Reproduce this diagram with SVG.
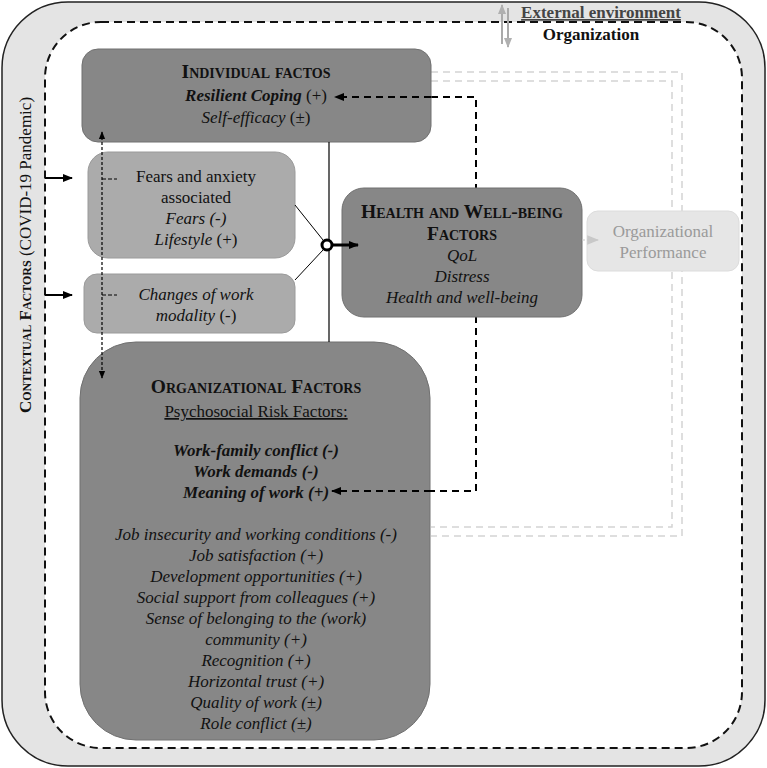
<svg xmlns="http://www.w3.org/2000/svg" width="767" height="768" viewBox="0 0 767 768">
<style>
text{font-family:"Liberation Serif","Times New Roman",Times,"DejaVu Serif",serif;font-size:17px;fill:#111;text-anchor:middle}
.sc{font-variant:small-caps;font-weight:bold;font-size:19.5px}
.sc2{font-variant:small-caps;font-weight:bold;font-size:17px}
.i{font-style:italic}
.b{font-weight:bold}
.dark{fill:#878787;stroke:#707070;stroke-width:1}
.light{fill:#ababab;stroke:#9a9a9a;stroke-width:1}
.gl{fill:none;stroke:#d4d4d4;stroke-width:1.5;stroke-dasharray:7 5}
.dc{fill:none;stroke:#000;stroke-width:2;stroke-dasharray:7 5}
</style>
<defs>
<marker id="ah" viewBox="0 0 10 10" refX="9" refY="5" markerWidth="10" markerHeight="10" markerUnits="userSpaceOnUse" orient="auto-start-reverse"><path d="M0,1 L10,5 L0,9 z" fill="#000"/></marker>
<marker id="ahs" viewBox="0 0 10 10" refX="9" refY="5" markerWidth="8" markerHeight="8" markerUnits="userSpaceOnUse" orient="auto-start-reverse"><path d="M0,1 L10,5 L0,9 z" fill="#000"/></marker>
<marker id="ahg" viewBox="0 0 10 10" refX="9" refY="5" markerWidth="10" markerHeight="10" markerUnits="userSpaceOnUse" orient="auto"><path d="M0,1 L10,5 L0,9 z" fill="#b0b0b0"/></marker>
<marker id="ahl" viewBox="0 0 10 10" refX="9" refY="5" markerWidth="12" markerHeight="12" markerUnits="userSpaceOnUse" orient="auto"><path d="M0,1 L10,5 L0,9 z" fill="#c8c8c8"/></marker>
</defs>
<g id="frame">
<rect x="2" y="2" width="763" height="764" rx="66" fill="#e4e4e4" stroke="#222" stroke-width="1.5"/>
<rect x="45" y="22" width="697" height="726" rx="56" fill="#fff" stroke="#111" stroke-width="2" stroke-dasharray="8 5"/>
<text x="601" y="18" class="b" style="fill:#444;text-decoration:underline">External environment</text>
<text x="591" y="40" class="b">Organization</text>
<text transform="translate(31,255) rotate(-90)"><tspan class="sc2">Contextual  Factors</tspan> (COVID-19 Pandemic)</text>
</g>
<g id="connectors-back">
<path class="gl" d="M431,72 H682 V536 H431"/>
<path class="gl" d="M431,81 H672 V527 H431"/>
<path class="dc" d="M431,97 H476 V491 H431"/>
</g>
<g id="individual">
<rect class="dark" x="82" y="49" width="349" height="93" rx="16"/>
<text x="256" y="78" class="sc">Individual  factos</text>
<text x="256" y="101"><tspan class="b i">Resilient Coping</tspan> (+)</text>
<text x="256" y="123"><tspan class="i">Self-efficacy</tspan> (±)</text>
</g>
<g id="fears">
<rect class="light" x="88" y="152" width="207" height="106" rx="20"/>
<text x="196" y="182">Fears and anxiety</text>
<text x="196" y="203">associated</text>
<text x="196" y="224" class="i">Fears (-)</text>
<text x="196" y="245"><tspan class="i">Lifestyle</tspan> (+)</text>
</g>
<g id="changes">
<rect class="light" x="84" y="274" width="211" height="59" rx="13"/>
<text x="196" y="300" class="i">Changes of work</text>
<text x="196" y="321"><tspan class="i">modality</tspan> (-)</text>
</g>
<g id="health">
<rect class="dark" x="342" y="188" width="240" height="129" rx="22"/>
<text x="462" y="218" class="sc">Health  and  Well-being</text>
<text x="462" y="240" class="sc">Factors</text>
<text x="462" y="261" class="i">QoL</text>
<text x="462" y="282" class="i">Distress</text>
<text x="462" y="303" class="i">Health and well-being</text>
</g>
<g id="performance">
<rect x="587" y="211" width="152" height="60" rx="11" fill="#e6e6e6" stroke="#dcdcdc"/>
<text x="663" y="237" style="fill:#9a9a9a">Organizational</text>
<text x="663" y="258" style="fill:#9a9a9a">Performance</text>
</g>
<g id="organizational">
<rect class="dark" x="80" y="342" width="350" height="398" rx="56"/>
<text x="256" y="393" class="sc">Organizational  Factors</text>
<text x="256" y="417" style="text-decoration:underline">Psychosocial Risk Factors:</text>
<text x="256" y="456" class="b i">Work-family conflict (-)</text>
<text x="256" y="477" class="b i">Work demands (-)</text>
<text x="256" y="498" class="b i">Meaning of work (+)</text>
<text x="256" y="540" class="i">Job insecurity and working conditions (-)</text>
<text x="256" y="561" class="i">Job satisfaction (+)</text>
<text x="256" y="582" class="i">Development opportunities (+)</text>
<text x="256" y="603" class="i">Social support from colleagues (+)</text>
<text x="256" y="624" class="i">Sense of belonging to the (work)</text>
<text x="256" y="645" class="i">community (+)</text>
<text x="256" y="666" class="i">Recognition (+)</text>
<text x="256" y="687" class="i">Horizontal trust (+)</text>
<text x="256" y="708" class="i">Quality of work (±)</text>
<text x="256" y="729" class="i">Role conflict (±)</text>
</g>
<g id="connectors" fill="none">
<path class="dc" d="M431,97 H335" marker-end="url(#ah)"/>
<path class="dc" d="M431,491 H332" marker-end="url(#ah)"/>
<path d="M502,44 V5" stroke="#aaa" stroke-width="2" marker-end="url(#ahg)"/>
<path d="M508,8 V47" stroke="#aaa" stroke-width="2" marker-end="url(#ahg)"/>
<path d="M45,178 H72" stroke="#000" stroke-width="2" marker-end="url(#ah)"/>
<path d="M45,295 H72" stroke="#000" stroke-width="2" marker-end="url(#ah)"/>
<path d="M102,132 V378" stroke="#000" stroke-width="1.2" stroke-dasharray="3 2" marker-start="url(#ahs)" marker-end="url(#ahs)"/>
<path d="M102,179 H117 M102,295 H117" stroke="#000" stroke-width="1" stroke-dasharray="4 2"/>
<path d="M329,142 V342" stroke="#000" stroke-width="1.2"/>
<path d="M295,205 L323,240 M295,280 L323,250" stroke="#000" stroke-width="1"/>
<path d="M333,245 H358" stroke="#000" stroke-width="3" marker-end="url(#ah)"/>
<circle cx="327" cy="245" r="5" fill="#fff" stroke="#000" stroke-width="3"/>
<path d="M582,240 H598" stroke="#c8c8c8" stroke-width="1.2" stroke-dasharray="3 2" marker-end="url(#ahl)"/>
</g>
</svg>
